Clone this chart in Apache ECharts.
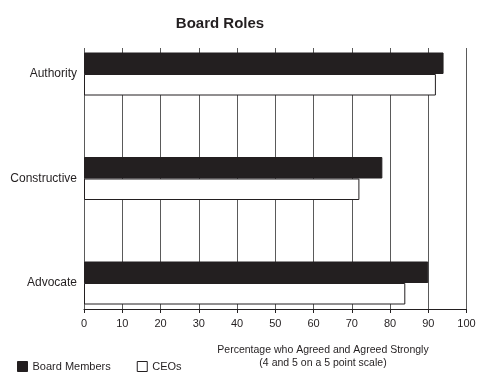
<!DOCTYPE html>
<html><head><meta charset="utf-8">
<script src="https://cdn.jsdelivr.net/npm/echarts@6/dist/echarts.min.js"></script>
<style>html,body{margin:0;padding:0;background:#fff}#c{width:481px;height:373px}</style>
</head><body><div id="c"></div>
<script>
const categories = ['Authority', 'Constructive', 'Advocate'];
const boardMembers = [94, 78, 90];
const ceos = [92, 72, 84];
const xTicks = [0, 10, 20, 30, 40, 50, 60, 70, 80, 90, 100];

const FONT = '"Liberation Sans", Arial, sans-serif';
const chart = echarts.init(document.getElementById('c'), null, {renderer: 'canvas'});
chart.setOption({
  animation: false,
  backgroundColor: '#fff',
  textStyle: {fontFamily: FONT},
  title: {
    text: 'Board Roles', left: 215, top: 11, textAlign: 'center',
    textStyle: {fontFamily: FONT, fontWeight: 'bold', fontSize: 15, color: '#231f20'}
  },
  legend: {
    left: 12, top: 356, icon: 'rect', itemWidth: 10, itemHeight: 10, itemGap: 26,
    textStyle: {fontFamily: FONT, fontSize: 11, color: '#231f20'},
    itemStyle: {borderWidth: 1},
    data: ['Board Members', 'CEOs']
  },
  graphic: [{
    type: 'text', x: 323, y: 344,
    style: {
      text: 'Percentage who Agreed and Agreed Strongly\n(4 and 5 on a 5 point scale)',
      align: 'center', textAlign: 'center', font: '10.5px ' + FONT, fill: '#231f20', lineHeight: 13
    }
  }],
  grid: [
    {left: 84, right: 14.5, top: 48, bottom: 64},
    {left: 84, right: 14.5, top: 21.75, bottom: 37.75}
  ],
  xAxis: [
    {
      gridIndex: 0, type: 'value', min: xTicks[0], max: xTicks[xTicks.length - 1], interval: 10,
      axisLine: {show: true, lineStyle: {color: '#231f20', width: 1}},
      axisTick: {show: true, length: 4, lineStyle: {color: '#231f20'}},
      axisLabel: {fontFamily: FONT, fontSize: 11, color: '#231f20', margin: 9},
      splitLine: {show: true, lineStyle: {color: '#5a5a5a', width: 1}}
    },
    {
      gridIndex: 1, type: 'value', min: xTicks[0], max: xTicks[xTicks.length - 1], show: false,
      splitLine: {show: false}
    }
  ],
  yAxis: [
    {gridIndex: 0, type: 'value', show: false, splitLine: {show: false}},
    {
      gridIndex: 1, type: 'category', data: categories, inverse: true,
      axisLine: {show: false}, axisTick: {show: false},
      axisLabel: {fontFamily: FONT, fontSize: 12, color: '#231f20', margin: 7}
    }
  ],
  series: [
    {
      name: 'Board Members', type: 'bar', xAxisIndex: 1, yAxisIndex: 1,
      data: boardMembers, barWidth: 21.5, barGap: '0%',
      itemStyle: {color: '#231f20', borderColor: '#231f20', borderWidth: 1}
    },
    {
      name: 'CEOs', type: 'bar', xAxisIndex: 1, yAxisIndex: 1,
      data: ceos, barWidth: 21.5, barGap: '0%',
      itemStyle: {color: '#fff', borderColor: '#231f20', borderWidth: 1}
    }
  ]
});
</script></body></html>
